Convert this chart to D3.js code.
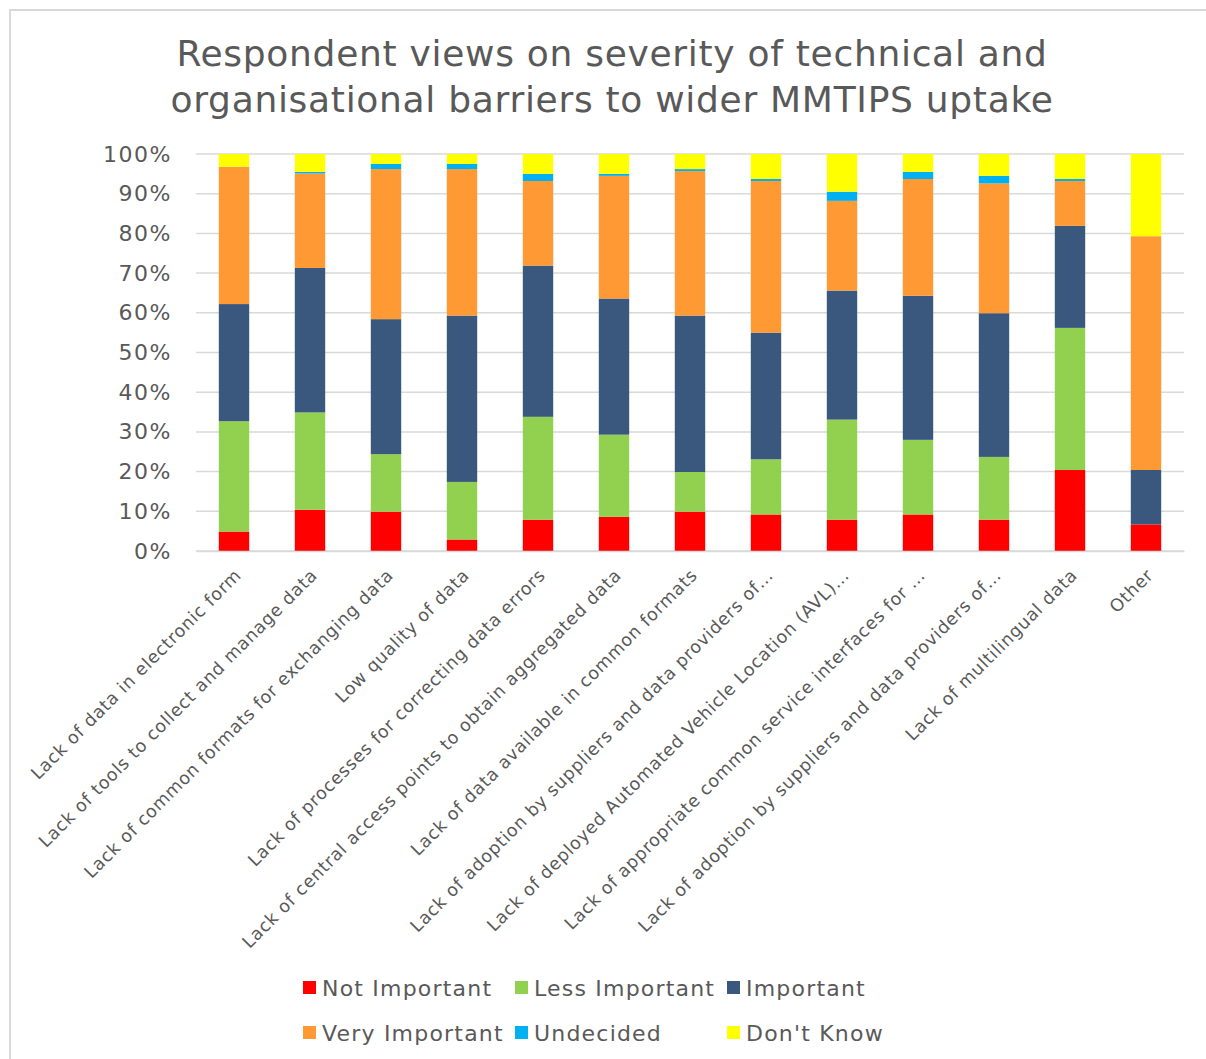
<!DOCTYPE html>
<html>
<head>
<meta charset="utf-8">
<script src="https://cdn.jsdelivr.net/npm/d3@7"></script>
<style>
  body { margin: 0; background: #fff; }
  svg { font-family: "DejaVu Sans", Verdana, sans-serif; }
</style>
</head>
<body>
<div id="chart"></div>
<script>
const categories = [
  "Lack of data in electronic form",
  "Lack of tools to collect and manage data",
  "Lack of common formats for exchanging data",
  "Low quality of data",
  "Lack of processes for correcting data errors",
  "Lack of central access points to obtain aggregated data",
  "Lack of data available in common formats",
  "Lack of adoption by suppliers and data providers of…",
  "Lack of deployed Automated Vehicle Location (AVL)…",
  "Lack of appropriate common service interfaces for …",
  "Lack of adoption by suppliers and data providers of…",
  "Lack of multilingual data",
  "Other"
];
const seriesNames = ["Not Important", "Less Important", "Important", "Very Important", "Undecided", "Don't Know"];
const seriesColors = ["#ff0000", "#92d050", "#3a577e", "#ff9933", "#00b0f0", "#ffff00"];

// percentages per category
const notImportant  = [4.9, 10.4, 9.9, 2.9, 7.9, 8.6, 9.9, 9.2, 7.9, 9.2, 7.9, 20.4, 6.7];
const lessImportant = [27.8, 24.5, 14.5, 14.5, 25.9, 20.7, 10.0, 13.9, 25.2, 18.8, 15.8, 35.8, 0];
const important     = [29.5, 36.4, 34.0, 41.9, 38.1, 34.3, 39.4, 31.9, 32.5, 36.3, 36.2, 25.7, 13.7];
const veryImportant = [34.6, 23.8, 37.8, 36.9, 21.3, 30.9, 36.4, 38.2, 22.6, 29.4, 32.7, 11.3, 58.9];
const undecided     = [0, 0.4, 1.3, 1.3, 1.8, 0.5, 0.5, 0.5, 2.3, 1.8, 1.9, 0.5, 0];
const dontKnow      = [3.2, 4.5, 2.5, 2.5, 5.0, 5.0, 3.8, 6.3, 9.5, 4.5, 5.5, 6.3, 20.7];
const yTicks = [0, 10, 20, 30, 40, 50, 60, 70, 80, 90, 100];

const W = 1206, H = 1059;
const margin = { top: 154, right: 22, bottom: 508, left: 196 };
const width = W - margin.left - margin.right;
const height = H - margin.top - margin.bottom;

const svg = d3.select("#chart").append("svg")
  .attr("width", W)
  .attr("height", H);

// chart area border (only top and left visible)
svg.append("rect")
  .attr("x", 10).attr("y", 10)
  .attr("width", W + 20).attr("height", H + 20)
  .attr("fill", "none")
  .attr("stroke", "#d9d9d9")
  .attr("stroke-width", 2);

// title
const title = svg.append("text")
  .attr("text-anchor", "middle")
  .attr("fill", "#595959")
  .attr("font-size", "36px")
  .attr("letter-spacing", "0.7px");
title.append("tspan").attr("x", 612).attr("y", 66).text("Respondent views on severity of technical and");
title.append("tspan").attr("x", 612).attr("y", 112).text("organisational barriers to wider MMTIPS uptake");

const g = svg.append("g").attr("transform", `translate(${margin.left},${margin.top})`);

const keys = ["ni", "li", "im", "vi", "un", "dk"];
const rows = categories.map((c, i) => ({
  idx: i, cat: c,
  ni: notImportant[i], li: lessImportant[i], im: important[i],
  vi: veryImportant[i], un: undecided[i], dk: dontKnow[i]
}));

const x = d3.scaleBand()
  .domain(rows.map(d => d.idx))
  .range([0, width])
  .paddingInner(0.6)
  .paddingOuter(0.3);
const y = d3.scaleLinear().domain([0, 100]).range([height, 0]);

// gridlines
g.append("g")
  .selectAll("line")
  .data(yTicks)
  .enter().append("line")
  .attr("x1", 0).attr("x2", width)
  .attr("y1", d => y(d)).attr("y2", d => y(d))
  .attr("stroke", "#d9d9d9")
  .attr("stroke-width", 1.5);

// y axis
const yAxis = g.append("g")
  .call(d3.axisLeft(y).tickValues(yTicks).tickFormat(d => d + "%").tickSize(0).tickPadding(24));
yAxis.select(".domain").remove();
yAxis.selectAll("text")
  .attr("font-size", "22px")
  .attr("letter-spacing", "1.5px")
  .attr("fill", "#595959")
  .attr("font-family", "DejaVu Sans, Verdana, sans-serif");

// stacked bars
const stacked = d3.stack().keys(keys)(rows);
g.selectAll(".layer")
  .data(stacked)
  .enter().append("g")
  .attr("class", "layer")
  .attr("fill", (d, i) => seriesColors[i])
  .selectAll("rect")
  .data(d => d)
  .enter().append("rect")
  .attr("x", d => x(d.data.idx))
  .attr("y", d => y(d[1]))
  .attr("width", x.bandwidth())
  .attr("height", d => y(d[0]) - y(d[1]));

// x axis
const xAxis = g.append("g")
  .attr("transform", `translate(0,${height})`)
  .call(d3.axisBottom(x).tickFormat(i => categories[i]).tickSize(0).tickPadding(0));
xAxis.select(".domain").attr("stroke", "#d9d9d9").attr("stroke-width", 1.5);
xAxis.selectAll("text")
  .attr("font-size", "17.5px")
  .attr("letter-spacing", "0.7px")
  .attr("fill", "#595959")
  .attr("font-family", "DejaVu Sans, Verdana, sans-serif")
  .attr("text-anchor", "end")
  .attr("dy", "0.35em")
  .attr("transform", "translate(4,21) rotate(-45)");

// legend
const legendItems = seriesNames.map((n, i) => ({ name: n, color: seriesColors[i], col: i % 3, row: Math.floor(i / 3) }));
const colX = [303, 515, 727];
const rowY = [988, 1033];
const legend = svg.append("g")
  .selectAll("g")
  .data(legendItems)
  .enter().append("g")
  .attr("transform", d => `translate(${colX[d.col]},${rowY[d.row]})`);
legend.append("rect")
  .attr("x", 0).attr("y", -7)
  .attr("width", 13).attr("height", 13)
  .attr("fill", d => d.color);
legend.append("text")
  .attr("x", 19)
  .attr("y", 0)
  .attr("dy", "0.35em")
  .attr("font-size", "22px")
  .attr("letter-spacing", "1.2px")
  .attr("fill", "#595959")
  .text(d => d.name);
</script>
</body>
</html>
